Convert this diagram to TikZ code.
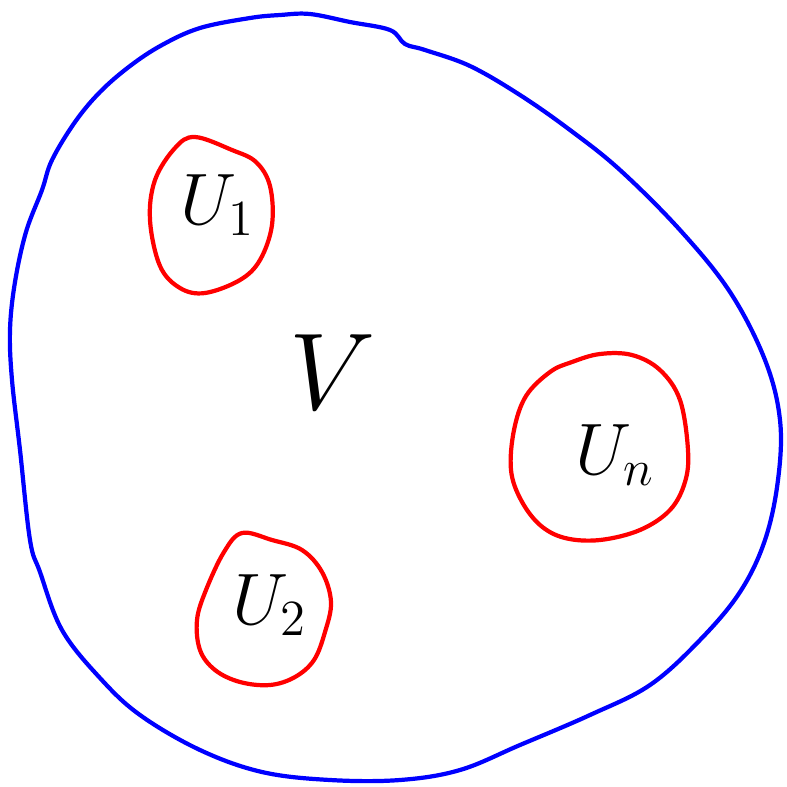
\documentclass[tikz,border=0pt]{standalone}
\usepackage{tikz}

\begin{document}
\begin{tikzpicture}[x=0.01cm,y=-0.01cm,line cap=round,line join=round,
    every node/.style={font=\fontsize{22}{26}\selectfont},
    outer/.style={draw=blue,line width=1.2pt},
    inner/.style={draw=red,line width=1.2pt}]
    \useasboundingbox (0,0) rectangle (787,787);
    % the big set
    \draw[outer] plot[smooth cycle,tension=0.6] coordinates {
        (280,15) (310,14) (350,22) (390,30) (405,44) (425,50) (470,66)
        (520,95) (570,130) (620,170) (680,230) (730,292) (765,360)
        (780,420) (778,480) (765,540) (740,592) (700,640) (650,685)
        (590,715) (520,745) (460,770) (400,780) (330,780) (262,772)
        (200,750) (140,715) (100,678) (62,630) (40,572) (30,540)
        (20,450) (12,380) (10,330) (15,282) (26,232) (42,190) (52,160)
        (75,122) (100,92) (130,66) (162,45) (200,28) (250,18)};
    % the small sets
    \draw[inner] plot[smooth cycle,tension=0.6] coordinates {
        (195,137) (232,150) (256,162) (270,186) (272,225) (260,260)
        (240,280) (205,293) (180,288) (160,266) (150,220) (155,180)
        (175,148)};
    \draw[inner] plot[smooth cycle,tension=0.6] coordinates {
        (242,533) (272,540) (302,550) (322,572) (331,602) (325,632)
        (314,660) (295,677) (270,685) (240,682) (215,670) (200,650)
        (197,620) (206,590) (224,552)};
    \draw[inner] plot[smooth cycle,tension=0.6] coordinates {
        (572,362) (600,354) (632,355) (660,370) (680,400) (688,450)
        (685,482) (670,510) (640,530) (600,540) (565,538) (540,525)
        (521,500) (511,470) (514,430) (526,396) (550,372)};
    % labels
    \node (u1) at (218,205) {$U_1$};
    \node (u2) at (270,605) {$U_2$};
    \node (un) at (615,455) {$U_n$};
    \node[scale=1.5] (v) at (333,372) {$V$};
\end{tikzpicture}
\end{document}
